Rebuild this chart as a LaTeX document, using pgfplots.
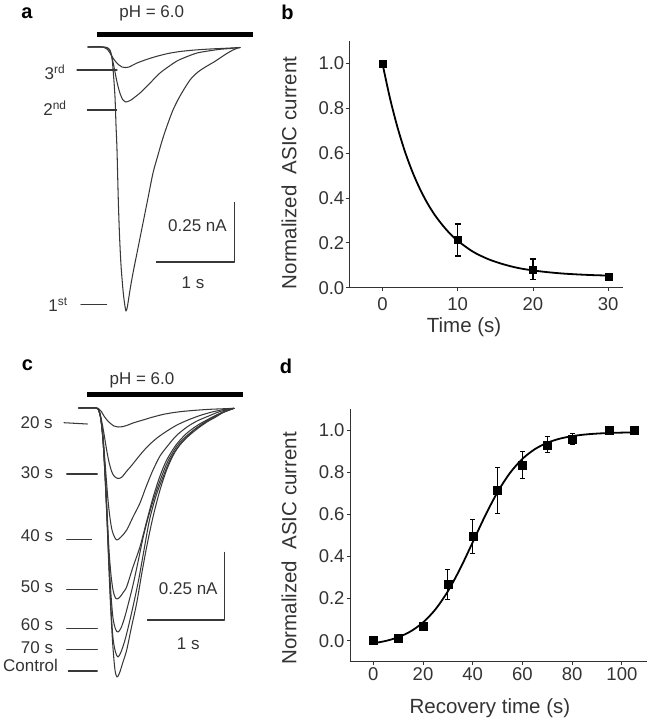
\documentclass[border=0pt]{standalone}
\usepackage{fontspec}
\setmainfont{Liberation Sans}
\usepackage{pgfplots}
\pgfplotsset{compat=1.18}
\definecolor{ink}{HTML}{333333}
\tikzset{lbl/.style={font=\fontsize{17bp}{20bp}\selectfont, text=ink, inner sep=0pt},
  let/.style={font=\fontsize{20bp}{24bp}\selectfont\bfseries, inner sep=0pt, anchor=base, text height=0.55em},
  tr/.style={color=black!78, solid, line width=1.05bp, mark=none, line join=round, line cap=round}}
\begin{document}
\begin{tikzpicture}
\path[use as bounding box] (0,0) rectangle (650bp,720bp);
% ---------------- left column: current traces (pixel coordinates) ----------------
\begin{axis}[at={(0,0)}, anchor=south west, scale only axis, width=260bp, height=720bp,
  xmin=0, xmax=260, ymin=0, ymax=720, y dir=reverse, axis lines=none, clip=false]
% panel letters
\node[let] at (axis cs:27,18.5) {a};
\node[let] at (axis cs:287.5,19) {b};
\node[let] at (axis cs:27.5,370) {c};
\node[let] at (axis cs:286,373.3) {d};
% ---- panel a ----
\node[lbl] at (axis cs:151.7,13.8) {pH = 6.0};
\addplot[line width=5bp, color=black] coordinates {(96.7,34.8) (253.3,34.8)};
% 1st
\addplot[tr, smooth] coordinates {(88,47) (96,46.5) (104,47) (108,48) (110,50) (112,58) (113.5,75) (115,97) (116,125) (117,150) (118.3,200) (119.5,235) (121,265) (123,290) (124.5,303) (126,311) (127.5,306) (130,290) (133,273) (138,248) (143,223) (148,198) (153,173) (158,155) (162,141) (167,126) (173,110) (180,96) (190,80) (198,72) (207,66) (214,62) (220,58) (226,54) (233,50) (238,48) (240,47.5)};
% 2nd
\addplot[tr, smooth] coordinates {(88,47) (100,47) (106,47.5) (109,49) (111,54) (113,62) (115,72) (117,82) (119,90) (121,96) (123,100) (125.5,102) (128,101.5) (131,100) (135,97) (140,93) (146,87) (152,81) (160,73) (168,67) (177,61) (186,57) (197,53) (208,51) (220,49.3) (230,48.5) (240,47.5)};
% 3rd
\addplot[tr, smooth] coordinates {(88,47) (100,47) (104,47.5) (107,49) (110,53) (113,58) (116,62) (119,65) (122,67) (125,67.5) (129,67) (133,65) (137,63) (145,60) (156,56.5) (168,53.5) (180,51.5) (195,50) (210,49) (225,48.3) (240,47.5)};
% label lines
\addplot[tr] coordinates {(77,70) (117,70)};
\addplot[tr] coordinates {(87.3,110) (116.7,110)};
\addplot[tr] coordinates {(81,304.3) (106.7,304.3)};
\node[lbl] at (axis cs:55,72) {3\textsuperscript{rd}};
\node[lbl] at (axis cs:55,108) {2\textsuperscript{nd}};
\node[lbl] at (axis cs:58,305) {1\textsuperscript{st}};
% scale bar a
\addplot[tr, line cap=butt] coordinates {(234.3,201.7) (234.3,262) (156,262)};
\node[lbl] at (axis cs:197.5,226) {0.25 nA};
\node[lbl] at (axis cs:193,282.5) {1 s};
% ---- panel c ----
\node[lbl] at (axis cs:142,380) {pH = 6.0};
\addplot[line width=5bp, color=black] coordinates {(87.3,394.8) (242.7,394.8)};
% 20 s
\addplot[tr, smooth] coordinates {(79,408) (96,408) (99,409) (101,411) (104,416) (107,420) (110,423) (114,426) (118,427) (123,426.5) (128,425) (133,423) (143,420) (153,417) (165,414) (180,411.7) (195,410.3) (210,409.3) (222,408.8) (234,408.3)};
% 30 s
\addplot[tr, smooth] coordinates {(79,408) (96,408) (99,410) (101,418) (103,428) (105,440) (107,452) (109,462) (111.5,471) (114,476) (118,478.5) (122,477) (126,472) (132,465) (140,455) (148,446) (157,438) (167,431) (177,425) (188,420) (200,415.5) (212,412) (224,409.5) (234,408.3)};
% 40 s
\addplot[tr, smooth] coordinates {(79,408) (96,408) (99,411) (101,420) (103,435) (104.5,455) (106,475) (108,500) (110,518) (112,530) (114.5,537) (117,540) (121,537) (126.7,530) (133,517) (140,503) (146,487) (153,470) (160,456) (167,446.7) (176,436) (187,427) (197,421) (207,416.7) (220,411.5) (234,408.3)};
% 50 s
\addplot[tr, smooth] coordinates {(79,408) (96,408) (99,411) (101,420) (103,440) (105,470) (107,510) (109,550) (111,575) (113,590) (115,597) (117,599) (120,597) (123.5,592) (126.7,586.7) (133,567) (140,546.7) (147,520) (153.3,496.7) (160,476) (166.7,460) (176,445) (186.7,433.3) (198,425) (210,418.3) (222,412.5) (234,408.3)};
% 60 s
\addplot[tr, smooth] coordinates {(79,408) (96,408) (99,411) (101,420) (103,440) (105,472) (107,515) (109,560) (111,595) (113,618) (115.5,629) (118,632) (121,628) (124.5,618) (128,605) (133,585) (138,562) (143,538) (147.5,520) (154,498) (161,478) (168,461) (177,446) (187,435.5) (198,427) (209,419.5) (221,413) (234,408.3)};
% 70 s
\addplot[tr, smooth] coordinates {(79,408) (96,408) (99,411) (101,420) (103,440) (105,475) (107,518) (109,565) (111,608) (113,638) (115.5,652) (118,657) (121,652) (125,640) (129,624) (134,602) (139,578) (144,550) (149.5,520) (156,496) (163,477) (170,460) (178,447) (188,436.5) (199,427.5) (210,420) (222,413) (234,408.3)};
% Control
\addplot[tr, smooth] coordinates {(79,408) (96,408) (99,411) (101,420) (103,440) (105,475) (107,520) (109,570) (111,615) (113,648) (115,670) (117,677) (119.5,673) (123,662) (126.7,650) (131.5,627) (136.7,603) (141.5,575) (146.7,546.7) (153,517) (160,490) (167,469) (175,452) (184,440) (194,430) (204,423) (214,418) (224,412) (234,408.3)};
% label lines c
\addplot[tr] coordinates {(64,422.7) (87.3,424)};
\addplot[tr] coordinates {(66.7,474) (97.3,474)};
\addplot[tr] coordinates {(66.7,539.3) (91.7,539.3)};
\addplot[tr] coordinates {(66.7,589.3) (97.3,589.3)};
\addplot[tr] coordinates {(66.7,628.3) (97.3,628.3)};
\addplot[tr] coordinates {(66.7,649.3) (97.3,649.3)};
\addplot[tr] coordinates {(68.3,671) (97.3,671)};
\node[lbl] at (axis cs:36.7,423) {20 s};
\node[lbl] at (axis cs:37,473) {30 s};
\node[lbl] at (axis cs:37,536) {40 s};
\node[lbl] at (axis cs:37,586.5) {50 s};
\node[lbl] at (axis cs:37,625) {60 s};
\node[lbl] at (axis cs:37,647.5) {70 s};
\node[lbl] at (axis cs:30.5,665.5) {Control};
% scale bar c
\addplot[tr, line cap=butt] coordinates {(224.3,551.7) (224.3,620) (147.3,620)};
\node[lbl] at (axis cs:188.3,589) {0.25 nA};
\node[lbl] at (axis cs:188.3,644) {1 s};
\end{axis}
% ---------------- panel b ----------------
\begin{axis}[at={(349.3bp,432.3bp)}, anchor=south west, scale only axis,
  width=274bp, height=246.8bp, xmin=-4.4, xmax=32, ymin=0, ymax=1.1,
  axis x line=bottom, axis y line=left, axis line style={-, line width=1bp, ink},
  xtick={0,10,20,30}, ytick={0,0.2,0.4,0.6,0.8,1.0},
  tick align=outside, major tick length=3bp, tick style={ink, line width=0.8bp},
  /pgf/number format/assume math mode=true,
  yticklabel style={/pgf/number format/.cd, fixed, fixed zerofill, precision=1, /tikz/.cd, xshift=1.5bp},
  xticklabel style={yshift=-3bp},
  tick label style={font=\fontsize{18.5bp}{20bp}\selectfont, text=ink},
  xlabel={Time (s)}, ylabel={Normalized\ \ ASIC current},
  label style={font=\fontsize{20.5bp}{24bp}\selectfont, text=ink},
  xlabel style={at={(axis description cs:0.419,-0.159)}, anchor=center},
  ylabel style={at={(axis description cs:-0.22,0.465)}, anchor=center, rotate=0},
  clip=false]
\addplot[smooth, line width=1.8bp, black] coordinates {(0,1.000) (1,0.845) (2,0.715) (3,0.606) (4,0.515) (5,0.439) (6,0.375) (7,0.322) (8,0.278) (9,0.240) (10,0.209) (12,0.161) (14,0.128) (16,0.105) (18,0.088) (20,0.077) (22,0.069) (24,0.063) (26,0.059) (28,0.056) (30,0.054)};
\addplot[only marks, mark=square*, mark size=3.5bp, black,
  error bars/.cd, y dir=both, y explicit,
  error bar style={line width=1.5bp, black},
  error mark options={rotate=90, mark size=3bp, line width=1.5bp, black}]
  coordinates {(0,1.0) +- (0,0) (10,0.213) +- (0,0.071) (20,0.082) +- (0,0.045) (30,0.05) +- (0,0.012)};
\end{axis}
% ---------------- panel d ----------------
\begin{axis}[at={(350bp,58.3bp)}, anchor=south west, scale only axis,
  width=297bp, height=252.8bp, xmin=-9.38, xmax=110.1, ymin=-0.1, ymax=1.1,
  axis x line=bottom, axis y line=left, axis line style={-, line width=1bp, ink},
  xtick={0,20,40,60,80,100}, ytick={0,0.2,0.4,0.6,0.8,1.0},
  tick align=outside, major tick length=3bp, tick style={ink, line width=0.8bp},
  /pgf/number format/assume math mode=true,
  yticklabel style={/pgf/number format/.cd, fixed, fixed zerofill, precision=1, /tikz/.cd, xshift=1bp},
  xticklabel style={yshift=1bp},
  tick label style={font=\fontsize{18.5bp}{20bp}\selectfont, text=ink},
  xlabel={Recovery time (s)}, ylabel={Normalized\ \ ASIC current},
  label style={font=\fontsize{20.5bp}{24bp}\selectfont, text=ink},
  xlabel style={at={(axis description cs:0.471,-0.184)}, anchor=center},
  ylabel style={at={(axis description cs:-0.205,0.449)}, anchor=center, rotate=0},
  clip=false]
\addplot[smooth, line width=1.8bp, black] coordinates {(0,-0.0125) (5,-0.0015) (10,0.0161) (15,0.0439) (20,0.0863) (25,0.1486) (30,0.2344) (35,0.3432) (40,0.4673) (45,0.5929) (50,0.7055) (55,0.7962) (60,0.8630) (65,0.9090) (70,0.9393) (75,0.9586) (80,0.9707) (85,0.9782) (90,0.9828) (95,0.9856) (100,0.9874) (105,0.9884)};
\addplot[only marks, mark=square*, mark size=4bp, black,
  error bars/.cd, y dir=both, y explicit,
  error bar style={line width=1bp, black},
  error mark options={rotate=90, mark size=2.5bp, line width=1bp, black}]
  coordinates {(0,0.0) +- (0,0.01) (10,0.013) +- (0,0.005) (20,0.07) +- (0,0.01) (30,0.267) +- (0,0.072) (40,0.494) +- (0,0.079) (50,0.712) +- (0,0.11) (60,0.834) +- (0,0.063) (70,0.929) +- (0,0.038) (80,0.957) +- (0,0.027) (95,1.0) +- (0,0) (105,1.0) +- (0,0)};
\end{axis}
\end{tikzpicture}
\end{document}
